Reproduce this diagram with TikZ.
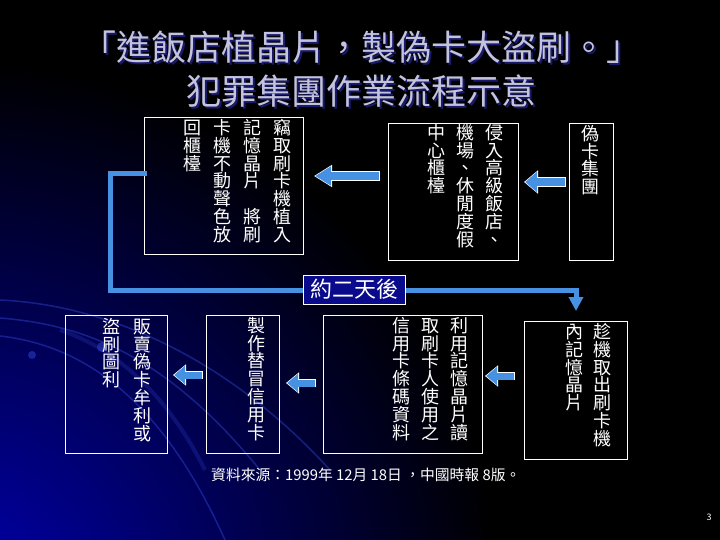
\documentclass[tikz,border=0pt]{standalone}
\usepackage{fontspec}
\setmainfont{Noto Sans CJK TC}
\usetikzlibrary{arrows.meta,calc}
\definecolor{arrowblue}{RGB}{70,145,225}
\definecolor{labnavy}{RGB}{10,10,140}
\definecolor{titlecol}{RGB}{195,195,222}
\definecolor{titleshadow}{RGB}{25,25,110}
\definecolor{bgblue}{RGB}{0,0,175}
\definecolor{swooshcol}{RGB}{50,70,210}
\newcommand\vcol[1]{\vtop{\baselineskip=17.8pt\lineskiplimit=-20pt\lineskip=0pt\vcolloop#1\relax}}
\def\vcolloop#1{\ifx\relax#1\else\hbox to 18pt{\hss#1\hss}\expandafter\vcolloop\fi}
\tikzset{
  boxstyle/.style={draw=white, line width=1pt, inner sep=0pt, anchor=north west},
  vtext/.style={text=white, inner sep=0pt, anchor=north east, font=\fontsize{18pt}{17.8pt}\selectfont},
  arrout/.style={draw=white, line width=9.5pt, line cap=butt, -{Triangle[width=22.5pt,length=14pt]}},
  blockarr/.style={draw=arrowblue, line width=8pt, line cap=butt, shorten >=1.2pt, shorten <=0.8pt, -{Triangle[width=20pt,length=12pt]}},
  arrouts/.style={draw=white, line width=8.5pt, line cap=butt, -{Triangle[width=20.5pt,length=13pt]}},
  blockarrs/.style={draw=arrowblue, line width=7pt, line cap=butt, shorten >=1.2pt, shorten <=0.8pt, -{Triangle[width=18pt,length=11pt]}},
  conn/.style={draw=arrowblue, line width=5pt, line join=miter, -{Triangle[width=14pt,length=14pt]}},
  swoosh/.style={draw=swooshcol, line width=1.5pt, opacity=0.45},
  titlefont/.style={font=\fontsize{35pt}{35pt}\selectfont, inner sep=0pt},
}
\begin{document}
\begin{tikzpicture}[x=1pt,y=-1pt]
\useasboundingbox (0,0) rectangle (720,540);
\fill[black] (0,0) rectangle (720,540);
\begin{scope}
\clip (0,0) rectangle (720,540);
\shade[inner color=bgblue, outer color=black] (-40,600) circle (540);
\draw[swoosh] (0,318) .. controls (90,325) and (170,360) .. (260,470);
\draw[swoosh] (0,336) .. controls (80,345) and (160,395) .. (225,540);
\draw[swoosh] (0,300) .. controls (110,305) and (230,360) .. (330,470);
\draw[swoosh, line width=4pt, opacity=0.25] (60,330) .. controls (120,350) and (170,400) .. (205,470);
\fill[swooshcol, opacity=0.5] (32,355) circle (4);
\fill[swooshcol, opacity=0.5] (102,347) circle (5);
\end{scope}

% title (dark shadow drawn first, then the text)
\node[titlefont, text=titleshadow] (tsh1) at (363,49.5) {「進飯店植晶片，製偽卡大盜刷。」};
\node[titlefont, text=titlecol] (t1) at (361,47.5) {「進飯店植晶片，製偽卡大盜刷。」};
\node[titlefont, text=titleshadow] (tsh2) at (363,93) {犯罪集團作業流程示意};
\node[titlefont, text=titlecol] (t2) at (361,91) {犯罪集團作業流程示意};

% boxes
\node[boxstyle, minimum width=44pt, minimum height=137pt] (b1) at (569,123) {};
\node[boxstyle, minimum width=130pt, minimum height=137pt] (b2) at (388,123) {};
\node[boxstyle, minimum width=159pt, minimum height=137pt] (b3) at (144,117) {};
\node[boxstyle, minimum width=103pt, minimum height=138pt] (b4) at (524,321) {};
\node[boxstyle, minimum width=159pt, minimum height=138pt] (b5) at (323,315) {};
\node[boxstyle, minimum width=73pt, minimum height=138pt] (b6) at (206,315) {};
\node[boxstyle, minimum width=102pt, minimum height=138pt] (b7) at (65,315) {};

% texts
\node[vtext] (x1) at (600,125) {\vcol{偽卡集團}};
\node[vtext] (x2) at (504,124) {\vcol{中心櫃檯}\hskip11pt\vcol{機場、休閒度假}\hskip11pt\vcol{侵入高級飯店、}};
\node[vtext] (x3) at (292,119) {\vcol{回櫃檯}\hskip12pt\vcol{卡機不動聲色放}\hskip12pt\vcol{記憶晶片　將刷}\hskip12pt\vcol{竊取刷卡機植入}};
\node[vtext] (x4) at (612,323) {\vcol{內記憶晶片}\hskip10pt\vcol{趁機取出刷卡機}};
\node[vtext] (x5) at (469,317) {\vcol{信用卡條碼資料}\hskip11pt\vcol{取刷卡人使用之}\hskip11pt\vcol{利用記憶晶片讀}};
\node[vtext] (x6) at (266,317) {\vcol{製作替冒信用卡}};
\node[vtext] (x7) at (152,318) {\vcol{盜刷圖利}\hskip13pt\vcol{販賣偽卡牟利或}};

% block arrows
\coordinate (a1s) at ($(b1.west|-0,182)+(-3,0)$);
\coordinate (a1e) at ($(b2.east|-0,182)+(5,0)$);
\draw[arrout] (a1s) -- (a1e);
\draw[blockarr] (a1s) -- (a1e);
\coordinate (a2s) at ($(b2.west|-0,176)+(-8,0)$);
\coordinate (a2e) at ($(b3.east|-0,176)+(10,0)$);
\draw[arrout, -{Triangle[width=21pt,length=18pt]}] (a2s) -- (a2e);
\draw[blockarr, -{Triangle[width=18.5pt,length=16pt]}] (a2s) -- (a2e);
\coordinate (a3s) at ($(b4.west|-0,376)+(-9,0)$);
\coordinate (a3e) at ($(b5.east|-0,376)+(2,0)$);
\draw[arrouts] (a3s) -- (a3e);
\draw[blockarrs] (a3s) -- (a3e);
\coordinate (a4s) at ($(b5.west|-0,383)+(-7,0)$);
\coordinate (a4e) at ($(b6.east|-0,383)+(6,0)$);
\draw[arrouts] (a4s) -- (a4e);
\draw[blockarrs] (a4s) -- (a4e);
\coordinate (a5s) at ($(b6.west|-0,375)+(-3,0)$);
\coordinate (a5e) at ($(b7.east|-0,375)+(5,0)$);
\draw[arrouts] (a5s) -- (a5e);
\draw[blockarrs] (a5s) -- (a5e);

% connector
\coordinate (c1) at (110.5,174);
\coordinate (c2) at (110.5,290.5);
\draw[conn] ($(b3.west|-0,174)+(3,0)$) -- (c1) -- (c2) -- (b4.north|-c2) -- ($(b4.north)+(0,-10)$);
\node[fill=labnavy, draw=white, line width=0.8pt, text=white, inner sep=0pt,
      minimum width=102pt, minimum height=29pt, font=\fontsize{22pt}{22pt}\selectfont] (lab) at (354,289.5) {約二天後};

% source
\node[text=white, anchor=west, inner sep=0pt, font=\fontsize{14.8pt}{14.8pt}\selectfont] (src) at (211,475) {資料來源：1999年 12月 18日 ，中國時報 8版。};
\node[text=white, inner sep=0pt, font=\fontsize{9pt}{9pt}\selectfont] (pg) at (709,517) {3};
\end{tikzpicture}
\end{document}
